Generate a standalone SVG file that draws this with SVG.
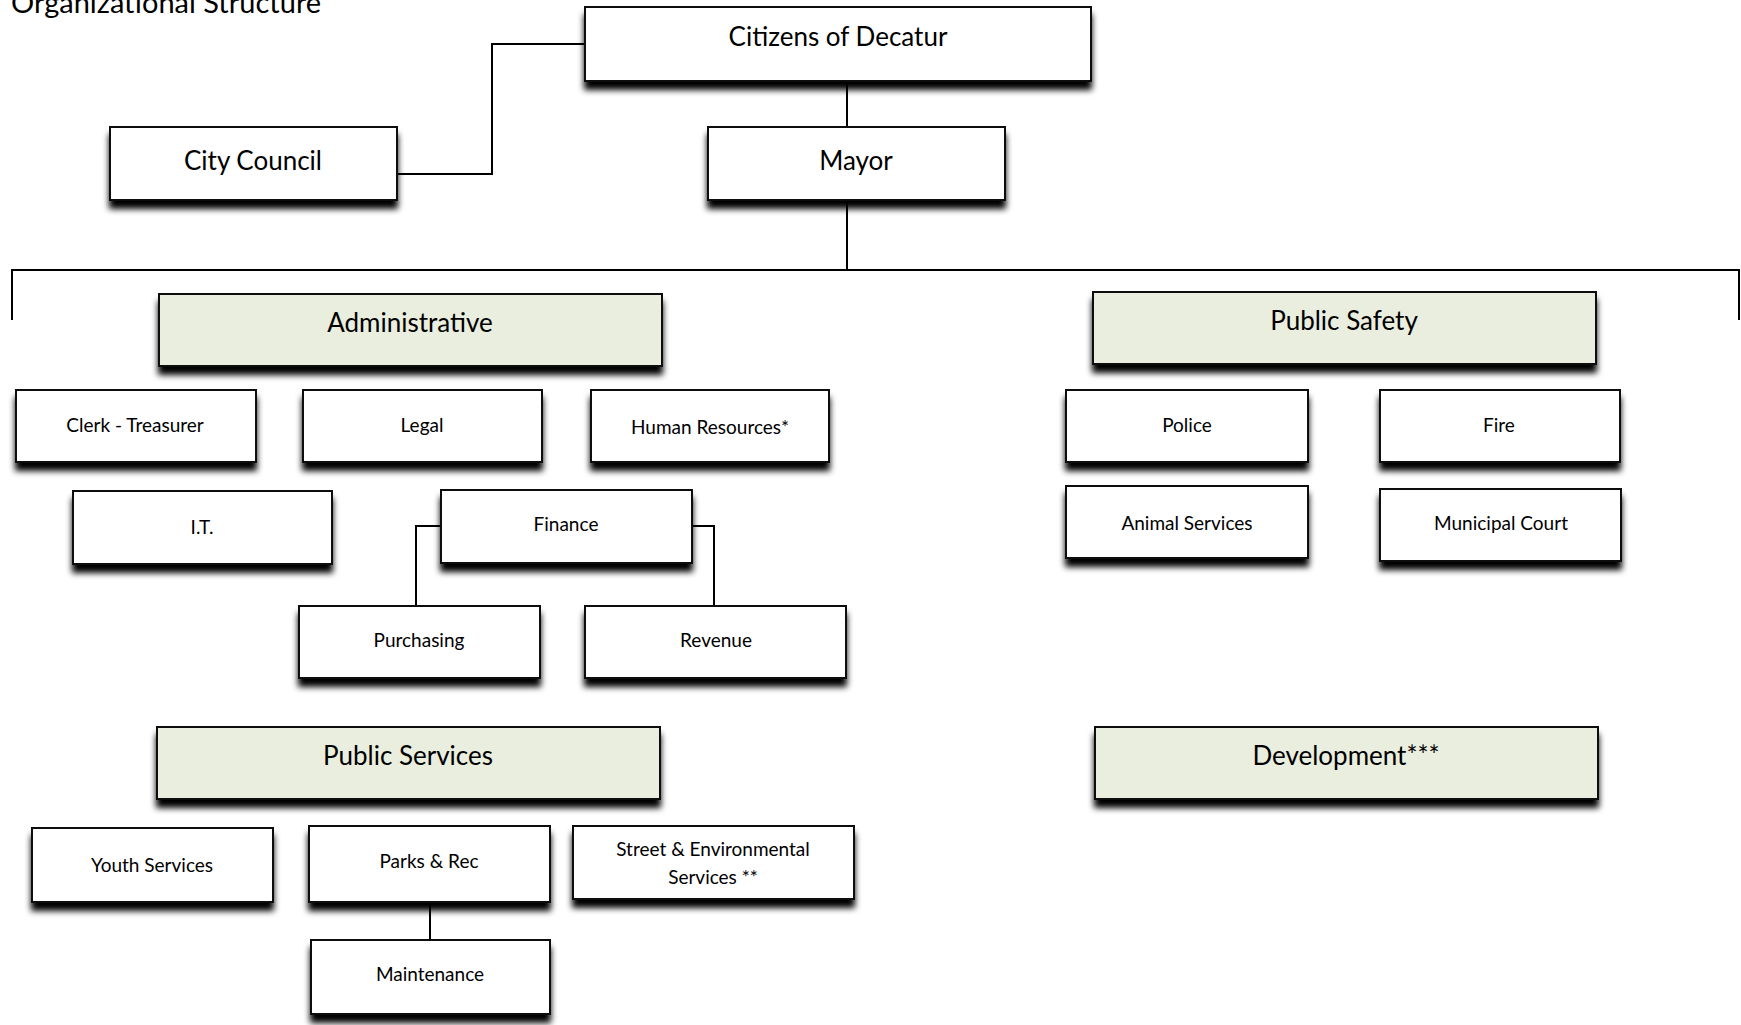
<svg xmlns="http://www.w3.org/2000/svg" width="1741" height="1025" viewBox="0 0 1741 1025">
<defs>
<filter id="sh" x="-10%" y="-20%" width="120%" height="160%">
<feGaussianBlur in="SourceAlpha" stdDeviation="3"/>
<feOffset dx="0" dy="8" result="b"/>
<feFlood flood-color="#000" flood-opacity="1"/>
<feComposite in2="b" operator="in"/>
<feMerge><feMergeNode/><feMergeNode in="SourceGraphic"/></feMerge>
</filter>
<style>
.b{fill:#fff;stroke:#111;stroke-width:2;filter:url(#sh)}
.g{fill:#eaeede;stroke:#111;stroke-width:2;filter:url(#sh)}
.t{font-family:Lato,"Open Sans","Liberation Sans",sans-serif;fill:#000;text-anchor:middle}
.l{font-size:26px}
.s{font-size:19px}
.c{fill:none;stroke:#000;stroke-width:2}
</style>
</defs>
<rect width="1741" height="1025" fill="#fff"/>
<text x="11" y="13" font-family="Lato,'Open Sans','Liberation Sans',sans-serif" font-size="29">Organizational Structure</text>
<g id="connectors">
<path class="c" d="M397 174H492V44H585"/>
<path class="c" d="M847 81V127"/>
<path class="c" d="M847 200V270"/>
<path class="c" d="M12 320V270H1739V320"/>
<path class="c" d="M441 526H416V606"/>
<path class="c" d="M692 526H714V606"/>
<path class="c" d="M430 902V940"/>
</g>
<g id="citizens"><rect class="b" x="585" y="7" width="506" height="74"/><text class="t l" x="838" y="46">Citizens of Decatur</text></g>
<g id="council"><rect class="b" x="110" y="127" width="287" height="73"/><text class="t l" x="253" y="170">City Council</text></g>
<g id="mayor"><rect class="b" x="708" y="127" width="297" height="73"/><text class="t l" x="856" y="170">Mayor</text></g>
<g id="administrative"><rect class="g" x="159" y="294" width="503" height="72"/><text class="t l" x="410" y="332">Administrative</text></g>
<g id="publicsafety"><rect class="g" x="1093" y="292" width="503" height="72"/><text class="t l" x="1344" y="330">Public Safety</text></g>
<g id="clerk"><rect class="b" x="16" y="390" width="240" height="72"/><text class="t s" x="135" y="432">Clerk - Treasurer</text></g>
<g id="legal"><rect class="b" x="303" y="390" width="239" height="72"/><text class="t s" x="422" y="432">Legal</text></g>
<g id="hr"><rect class="b" x="591" y="390" width="238" height="72"/><text class="t s" x="710" y="434">Human Resources*</text></g>
<g id="it"><rect class="b" x="73" y="491" width="259" height="73"/><text class="t s" x="202" y="534">I.T.</text></g>
<g id="finance"><rect class="b" x="441" y="490" width="251" height="73"/><text class="t s" x="566" y="531">Finance</text></g>
<g id="purchasing"><rect class="b" x="299" y="606" width="241" height="72"/><text class="t s" x="419" y="647">Purchasing</text></g>
<g id="revenue"><rect class="b" x="585" y="606" width="261" height="72"/><text class="t s" x="716" y="647">Revenue</text></g>
<g id="police"><rect class="b" x="1066" y="390" width="242" height="72"/><text class="t s" x="1187" y="432">Police</text></g>
<g id="fire"><rect class="b" x="1380" y="390" width="240" height="72"/><text class="t s" x="1499" y="432">Fire</text></g>
<g id="animal"><rect class="b" x="1066" y="486" width="242" height="72"/><text class="t s" x="1187" y="530">Animal Services</text></g>
<g id="court"><rect class="b" x="1380" y="489" width="241" height="72"/><text class="t s" x="1501" y="530">Municipal Court</text></g>
<g id="publicservices"><rect class="g" x="157" y="727" width="503" height="72"/><text class="t l" x="408" y="765">Public Services</text></g>
<g id="development"><rect class="g" x="1095" y="727" width="503" height="72"/><text class="t l" x="1346" y="765">Development***</text></g>
<g id="youth"><rect class="b" x="32" y="828" width="241" height="74"/><text class="t s" x="152" y="872">Youth Services</text></g>
<g id="parks"><rect class="b" x="309" y="826" width="241" height="76"/><text class="t s" x="429" y="868">Parks &amp; Rec</text></g>
<g id="street"><rect class="b" x="573" y="826" width="281" height="73"/><text class="t s" x="713" y="856">Street &amp; Environmental</text><text class="t s" x="713" y="884">Services **</text></g>
<g id="maintenance"><rect class="b" x="311" y="940" width="239" height="74"/><text class="t s" x="430" y="981">Maintenance</text></g>
</svg>
